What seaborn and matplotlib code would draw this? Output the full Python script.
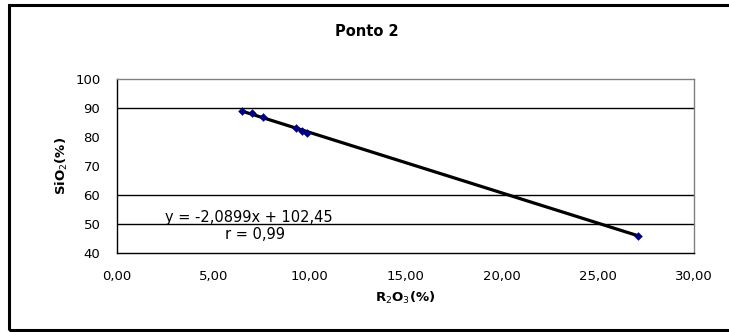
import numpy as np
import pandas as pd
import matplotlib
matplotlib.use('Agg')
import matplotlib.pyplot as plt
import seaborn as sns
from matplotlib.patches import Rectangle
from matplotlib.ticker import FuncFormatter

# data
r2o3 = [6.5, 7.0, 7.6, 9.3, 9.6, 9.9, 27.1]
sio2 = [88.9, 88.2, 86.9, 83.0, 82.2, 81.5, 46.0]
x_ticks = [0, 5, 10, 15, 20, 25, 30]
y_ticks = [40, 50, 60, 70, 80, 90, 100]
grid_rows = [50, 60, 90]
equation = 'y = -2,0899x + 102,45'
r_text = 'r = 0,99'

df = pd.DataFrame({'R2O3': r2o3, 'SiO2': sio2})

sns.set_theme(style='white')
plt.rcParams['font.family'] = ['DejaVu Sans']
plt.rcParams['text.color'] = 'black'
plt.rcParams['axes.labelcolor'] = 'black'

fig = plt.figure(figsize=(7.29, 3.32), dpi=100)
ax = fig.add_axes([0.1605, 0.238, 0.7915, 0.524])

for v in grid_rows:
    ax.axhline(v, color='black', lw=1.0, zorder=1)

sns.regplot(data=df, x='R2O3', y='SiO2', scatter=False, ci=None,
            line_kws={'color': 'black', 'lw': 2.3}, ax=ax)
sns.scatterplot(data=df, x='R2O3', y='SiO2', marker='D', s=16,
                color='#000080', edgecolor='#000080', zorder=3, ax=ax)

ax.set_xlim(0, 30)
ax.set_ylim(40, 100)
ax.set_xticks(x_ticks)
ax.set_yticks(y_ticks)
fmt = FuncFormatter(lambda v, p: f'{v:.2f}'.replace('.', ','))
ax.xaxis.set_major_formatter(fmt)
ax.tick_params(axis='both', labelsize=9.5, colors='black', direction='out',
               length=4, width=0.8)
ax.tick_params(axis='x', pad=8)
ax.tick_params(axis='y', pad=8)

for side in ['left', 'bottom']:
    ax.spines[side].set_color('black')
    ax.spines[side].set_linewidth(1.0)
for side in ['top', 'right']:
    ax.spines[side].set_color('#808080')
    ax.spines[side].set_linewidth(1.0)

ax.set_xlabel('R$_2$O$_3$(%)', fontsize=9.5, fontweight='bold', labelpad=5)
ax.set_ylabel('SiO$_2$(%)', fontsize=9.5, fontweight='bold', labelpad=4)
fig.text(0.503, 0.905, 'Ponto 2', ha='center', va='center',
         fontsize=10.5, fontweight='bold', color='black')

ax.text(2.5, 52.2, equation, fontsize=10.5, va='center', ha='left',
        color='black')
ax.text(5.6, 46.4, r_text, fontsize=10.5, va='center', ha='left',
        color='black')

fig.patches.append(Rectangle((9 / 729, 2 / 332), 1.1, 325 / 332,
                             transform=fig.transFigure, fill=False,
                             edgecolor='black', lw=2.2))

fig.savefig('out.png', dpi=100)
